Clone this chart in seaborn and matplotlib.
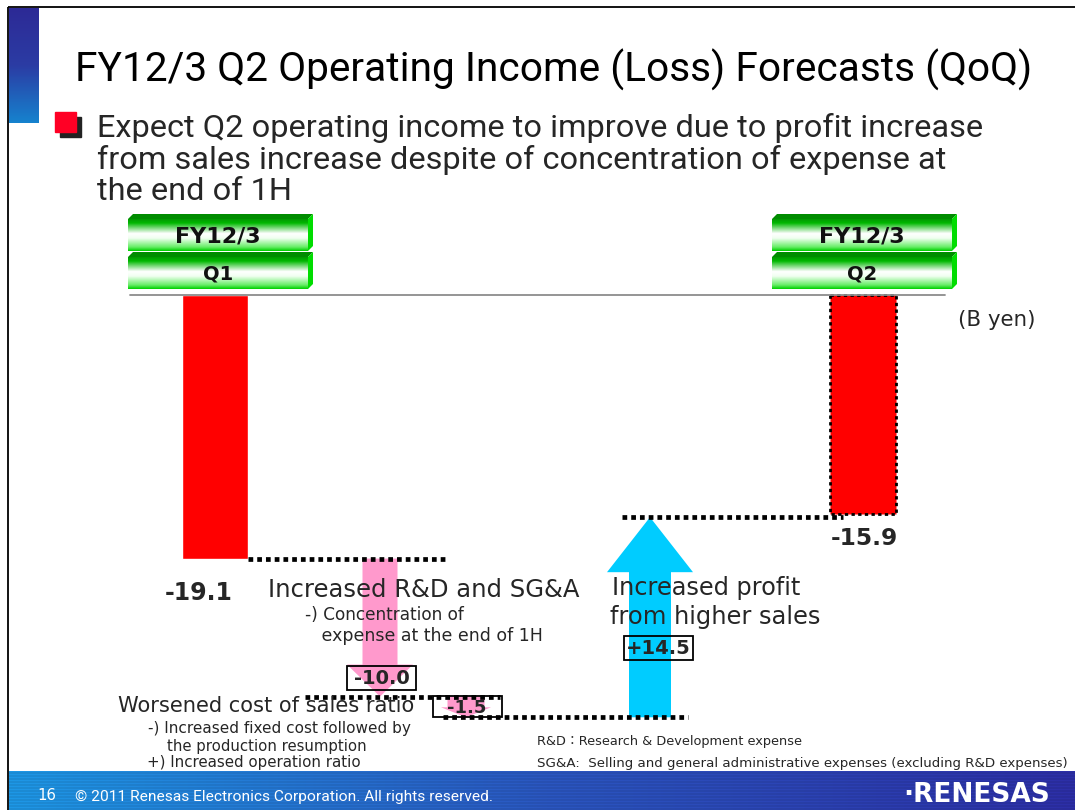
import numpy as np
import pandas as pd
import matplotlib
matplotlib.use("Agg")
import matplotlib.pyplot as plt
import seaborn as sns
from matplotlib.patches import Polygon, Rectangle
from matplotlib import font_manager
from matplotlib.colors import LinearSegmentedColormap, to_rgb

# ---------------- data ----------------
fiscal_label = "FY12/3"
periods = ["Q1", "Q2"]
period_values = [-19.1, -15.9]
change_labels = ["Increased R&D and SG&A",
                 "Worsened cost of sales ratio",
                 "Increased profit\nfrom higher sales"]
change_notes = [["-) Concentration of", "   expense at the end of 1H"],
                ["-) Increased fixed cost followed by", "    the production resumption",
                 "+) Increased operation ratio"],
                []]
change_values = [-10.0, -1.5, 14.5]
unit_label = "(B yen)"
title = "FY12/3 Q2 Operating Income (Loss) Forecasts (QoQ)"
bullet_lines = ["Expect Q2 operating income to improve due to profit increase",
                "from sales increase despite of concentration of expense at",
                "the end of 1H"]
footnotes = ["R&D\uff1aResearch & Development expense",
             "SG&A:  Selling and general administrative expenses (excluding R&D expenses)"]
footer_text = "\u00a9 2011 Renesas Electronics Corporation. All rights reserved."
page_no = "16"

# ---------------- layout (pixels) ----------------
W, H = 1075, 810
Y0 = 295          # pixel row of zero line
K = 13.8          # pixels per B yen
bar_x = [215, 863]
bar_w = 66
change_x = [380, 466, 650]
shaft_w = [35, 37, 42]
head_w = [66, 50, 86]
head_len = [32, 10, 55]
arrow_colors = ["#FF99CC", "#FF99CC", "#00CCFF"]
connector_spans = [(248, 445), (305, 500), (443, 688), (622, 843)]

sns.set_theme(style="white")
names = {f.name for f in font_manager.fontManager.ttflist}
narrow = next((n for n in ["Roboto", "Noto Sans", "Liberation Sans"] if n in names), "DejaVu Sans")
plt.rcParams["font.family"] = ["DejaVu Sans", "Noto Sans CJK JP"]

fig = plt.figure(figsize=(W / 100, H / 100), dpi=100)
deco = fig.add_axes([0, 0, 1, 1])
deco.set_xlim(0, W)
deco.set_ylim(H, 0)
deco.axis("off")
deco.set_zorder(0)

ax = fig.add_axes([0, 0, 1, 1])
ax.set_zorder(1)
ax.patch.set_alpha(0)
PX = deco.transData
renderer = fig.canvas.get_renderer()


def ypx(v):
    return Y0 - K * v


def fit_text(x, y, s, width, ha="left", **kw):
    t = ax.text(x, y, s, ha=ha, va="center", transform=PX, zorder=6, **kw)
    bb = t.get_window_extent(renderer=renderer)
    t.set_fontsize(t.get_fontsize() * width / bb.width)
    return t


# ---------------- slide decoration ----------------
deco.plot([8, W], [7, 7], color="black", lw=1.3, solid_capstyle="butt")
deco.plot([8, 8], [7, H], color="black", lw=1.3, solid_capstyle="butt")
cm_bar = LinearSegmentedColormap.from_list("bar", ["#2D2A96", "#2B3CA4", "#1682CE"])
deco.imshow(np.linspace(0, 1, 100).reshape(-1, 1), cmap=cm_bar, aspect="auto",
            extent=(9, 39, 123, 8), zorder=1)
xs = np.linspace(0, 1, W)
c0, c1, c2 = map(np.array, map(to_rgb, ["#1C8FD9", "#2852B6", "#2A2C9E"]))
base = np.where(xs[:, None] < 0.5, c0 + (c1 - c0) * (xs[:, None] / 0.5),
                c1 + (c2 - c1) * ((xs[:, None] - 0.5) / 0.5))
rows = 39
img = np.repeat(base[None, :, :], rows, axis=0)
stripe = np.where(np.arange(rows) % 3 == 0, 1.06, 0.98)[:, None, None]
img = np.clip(img * stripe, 0, 1)
deco.imshow(img, aspect="auto", extent=(9, W, H, 771), zorder=1, interpolation="nearest")

# title & bullet
t = ax.text(75, 70, title, ha="left", va="center", transform=PX, family=narrow,
            color="black", zorder=6)
bb = t.get_window_extent(renderer=renderer)
t.set_fontsize(t.get_fontsize() * 955 / bb.width)
deco.add_patch(Rectangle((60, 117), 21, 20, color="#222222", zorder=2))
deco.add_patch(Rectangle((55, 112), 21, 20, color="#FF0025", zorder=3))
bt = ax.text(97, 128, bullet_lines[0], ha="left", va="center", transform=PX,
             family=narrow, zorder=6)
bb = bt.get_window_extent(renderer=renderer)
bsize = bt.get_fontsize() * 881 / bb.width
bt.set_fontsize(bsize)
for i, line in enumerate(bullet_lines[1:], start=1):
    ax.text(97, 128 + 32 * i, line, ha="left", va="center", transform=PX,
            family=narrow, fontsize=bsize, zorder=6)

# green header boxes
cm_green = LinearSegmentedColormap.from_list(
    "g", [(0, "#009A00"), (0.12, "#00B800"), (0.45, "#FFFFFF"), (0.6, "#F0FFF0"),
          (0.88, "#66EE66"), (1, "#00D000")])


def green_box(x0, y0, w, h, label, size):
    d = 5
    deco.imshow(np.linspace(0, 1, 100).reshape(-1, 1), cmap=cm_green, aspect="auto",
                extent=(x0, x0 + w, y0 + h, y0), zorder=2)
    deco.add_patch(Polygon([(x0, y0), (x0 + d, y0 - d), (x0 + w + d, y0 - d), (x0 + w, y0)],
                           closed=True, color="#008C00", zorder=2, lw=0))
    deco.add_patch(Polygon([(x0 + w, y0), (x0 + w + d, y0 - d), (x0 + w + d, y0 + h - d),
                            (x0 + w, y0 + h)], closed=True, color="#00DD00", zorder=2, lw=0))
    ax.text(x0 + w / 2, y0 + h / 2 + 1, label, ha="center", va="center", transform=PX,
            fontsize=size, fontweight="bold", color="#111111", zorder=6)


for bx, per in zip([128, 772], periods):
    green_box(bx, 219, 180, 32, fiscal_label, 16)
    green_box(bx, 257, 180, 32, per, 14)

# ---------------- chart ----------------
df = pd.DataFrame({"x": bar_x, "value": period_values, "period": periods})
sns.barplot(data=df, x="x", y="value", native_scale=True,
            width=bar_w / (bar_x[1] - bar_x[0]), color="#FF0000", saturation=1,
            errorbar=None, ax=ax, zorder=3)
ax.set_xlim(0, W)
ax.set_ylim(-(H - Y0) / K, Y0 / K)
ax.axis("off")
q2 = ax.patches[1]
q2.set_edgecolor("black")
q2.set_linestyle((0, (1.2, 1.2)))
q2.set_linewidth(2)

ax.plot([130, 945], [0, 0], color="#8C8C8C", lw=1.3, zorder=4)

levels = [period_values[0]]
for v in change_values:
    levels.append(levels[-1] + v)

for i, v in enumerate(change_values):
    ys, ye = levels[i], levels[i + 1]
    s = np.sign(ye - ys)
    hl = head_len[i] / K
    x = change_x[i]
    sw, hw = shaft_w[i] / 2, head_w[i] / 2
    pts = [(x - sw, ys), (x - sw, ye - s * hl), (x - hw, ye - s * hl), (x, ye),
           (x + hw, ye - s * hl), (x + sw, ye - s * hl), (x + sw, ys)]
    ax.add_patch(Polygon(pts, closed=True, color=arrow_colors[i], lw=0, zorder=2))

for (xa, xb), lv in zip(connector_spans, levels):
    ax.plot([xa, xb], [lv, lv], color="black", lw=3.4, linestyle=(0, (1.0, 0.85)),
            dash_capstyle="butt", zorder=5)

# totals labels
fit_text(199, ypx(period_values[0]) + 34, f"{period_values[0]:.1f}", 68, ha="center",
         fontweight="bold")
fit_text(864, ypx(period_values[1]) + 24, f"{period_values[1]:.1f}", 67, ha="center",
         fontweight="bold")

# change value boxes
box_centers = [(381.5, ypx(levels[1]) - 19),
               (467, (ypx(levels[1]) + ypx(levels[2])) / 2),
               (658.5, 647.5)]
box_h = [24, 21, 24]
for (cx, cy), v, bh in zip(box_centers, change_values, box_h):
    ax.add_patch(Rectangle((cx - 34.5, cy - bh / 2), 69, bh, transform=PX, fill=False,
                           edgecolor="black", lw=1.3, zorder=6))
    ax.text(cx, cy + 1, f"{v:+.1f}" if v > 0 else f"{v:.1f}", ha="center", va="center",
            transform=PX, fontsize=14 if bh > 22 else 13, fontweight="bold", zorder=7)

# change descriptions
fit_text(268, 590, change_labels[0], 310)
fit_text(305, 615, change_notes[0][0], 158)
fit_text(305, 636, change_notes[0][1], 236)
fit_text(118, 706, change_labels[1], 297)
fit_text(148, 728, change_notes[1][0], 261)
fit_text(148, 746, change_notes[1][1], 217)
fit_text(147, 763, change_notes[1][2], 211)
l1, l2 = change_labels[2].split("\n")
fit_text(612, 588, l1, 188)
fit_text(610, 617, l2, 210)
fit_text(537, 742, footnotes[0], 265)
fit_text(537, 763, footnotes[1], 530)
fit_text(958, 320, unit_label, 77)

# footer texts
fit_text(37, 796, page_no, 19, color="white")
fit_text(75, 797, footer_text, 413, color="white", family=narrow)
fit_text(903, 795, "\u00b7RENESAS", 147, color="white", fontweight="bold")

fig.savefig("out.png", dpi=100)
